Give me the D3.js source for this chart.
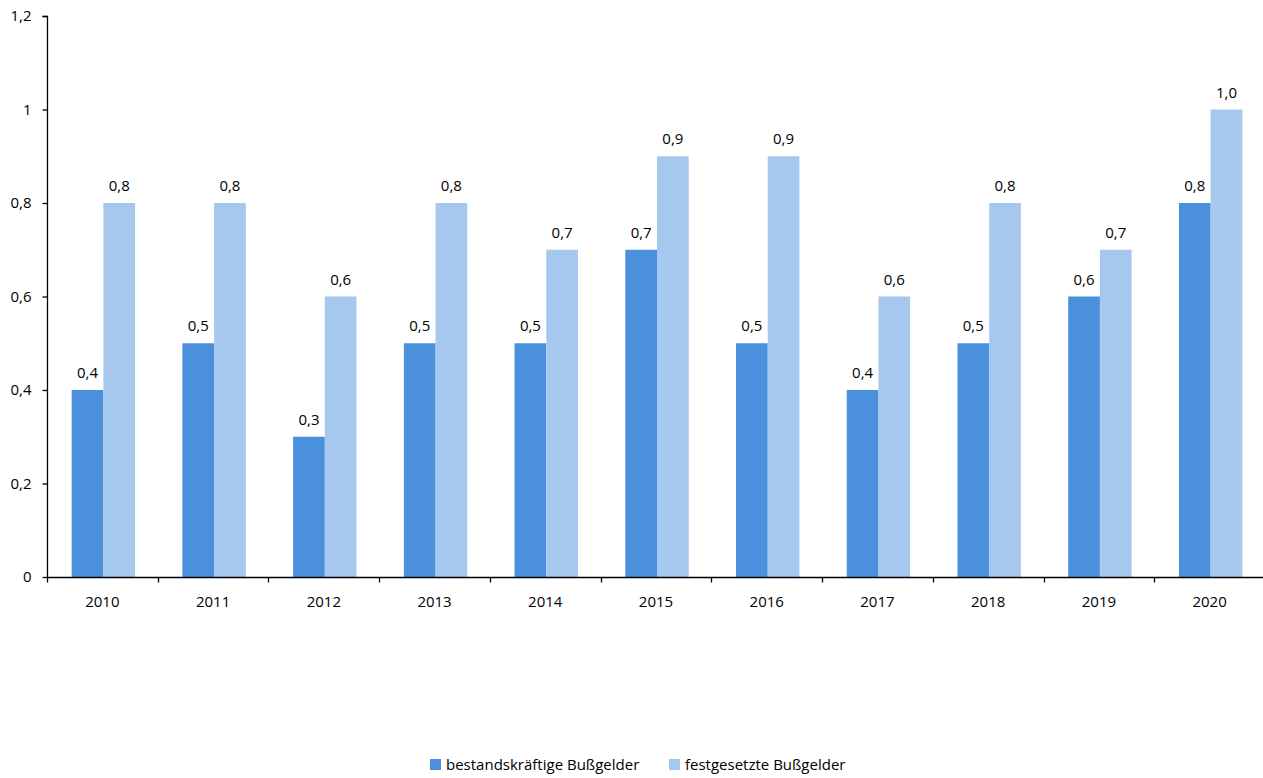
<!DOCTYPE html>
<html>
<head>
<meta charset="utf-8">
<script src="https://cdn.jsdelivr.net/npm/d3@7"></script>
<style>
  body { margin: 0; background: #fff; }
  svg { display: block; font-family: "Open Sans", "Liberation Sans", sans-serif; }
</style>
</head>
<body>
<svg id="chart" width="1263" height="778"></svg>
<script>
// Years on the x axis
const years = ["2010", "2011", "2012", "2013", "2014", "2015", "2016", "2017", "2018", "2019", "2020"];
// Series values
const bestandskraeftig = [0.4, 0.5, 0.3, 0.5, 0.5, 0.7, 0.5, 0.4, 0.5, 0.6, 0.8];
const festgesetzt = [0.8, 0.8, 0.6, 0.8, 0.7, 0.9, 0.9, 0.6, 0.8, 0.7, 1.0];
const seriesNames = ["bestandskräftige Bußgelder", "festgesetzte Bußgelder"];
const yTicks = [0, 0.2, 0.4, 0.6, 0.8, 1, 1.2];

const colors = ["#4a90dc", "#a6c8ee"];
const series = [bestandskraeftig, festgesetzt];

const svg = d3.select("#chart");
const plotLeft = 47, plotRight = 1265, plotTop = 16, plotBottom = 577;

const x = d3.scaleBand().domain(years).range([plotLeft, plotRight]);
const inner = d3.scaleBand().domain([0, 1]).range([0, 63.4]);
const y = d3.scaleLinear().domain([0, 1.2]).range([plotBottom, plotTop]);

const comma = v => String(v).replace(".", ",");
const comma1 = v => v.toFixed(1).replace(".", ",");

// Bars and value labels
series.forEach((vals, si) => {
  const g = svg.append("g");
  const off = x.bandwidth() / 2 - 31.7 + 1 + inner(si);
  g.selectAll("rect").data(vals).join("rect")
    .attr("x", (d, i) => x(years[i]) + off)
    .attr("y", d => y(d))
    .attr("width", inner.bandwidth())
    .attr("height", d => y(0) - y(d))
    .attr("fill", colors[si]);
  g.selectAll("text").data(vals).join("text")
    .attr("x", (d, i) => x(years[i]) + off + inner.bandwidth() / 2)
    .attr("y", d => y(d) - 12)
    .attr("text-anchor", "middle")
    .attr("font-size", 15)
    .attr("fill", "#000")
    .text(d => comma1(d));
});

// Y axis
const yAxis = svg.append("g")
  .attr("transform", `translate(${plotLeft + 0.5},0)`)
  .call(d3.axisLeft(y).tickValues(yTicks).tickSize(5).tickPadding(11).tickFormat(comma));
yAxis.select(".domain").attr("stroke", "#000").attr("stroke-width", 1.3)
  .attr("d", `M-5,${y(1.2) + 0.5}H0V${y(0)}`);
yAxis.selectAll(".tick line").attr("stroke", "#000").attr("stroke-width", 1.3);
yAxis.selectAll(".tick text").attr("font-size", 15).attr("fill", "#000")
  .attr("font-family", "Open Sans, sans-serif");

// X axis with ticks at band boundaries
const xg = svg.append("g").attr("transform", `translate(0,${plotBottom + 0.5})`);
xg.append("line").attr("x1", plotLeft).attr("x2", plotRight).attr("stroke", "#000").attr("stroke-width", 1.3);
const bounds = years.map(yr => x(yr));
xg.selectAll("line.tk").data(bounds).join("line").attr("class", "tk")
  .attr("x1", d => Math.round(d) + 0.5).attr("x2", d => Math.round(d) + 0.5)
  .attr("y1", 0).attr("y2", 5)
  .attr("stroke", "#000").attr("stroke-width", 1.3);
xg.selectAll("text").data(years).join("text")
  .attr("x", d => x(d) + x.bandwidth() / 2)
  .attr("y", 29)
  .attr("text-anchor", "middle")
  .attr("font-size", 15)
  .attr("fill", "#000")
  .text(d => d);

// Legend
const legendItems = [
  { name: seriesNames[0], color: colors[0], x: 430 },
  { name: seriesNames[1], color: colors[1], x: 669 }
];
const lg = svg.append("g");
legendItems.forEach(it => {
  lg.append("rect").attr("x", it.x).attr("y", 759).attr("width", 11).attr("height", 11).attr("fill", it.color);
  lg.append("text").attr("x", it.x + 16).attr("y", 770).attr("font-size", 15).attr("fill", "#000").text(it.name);
});
</script>
</body>
</html>
